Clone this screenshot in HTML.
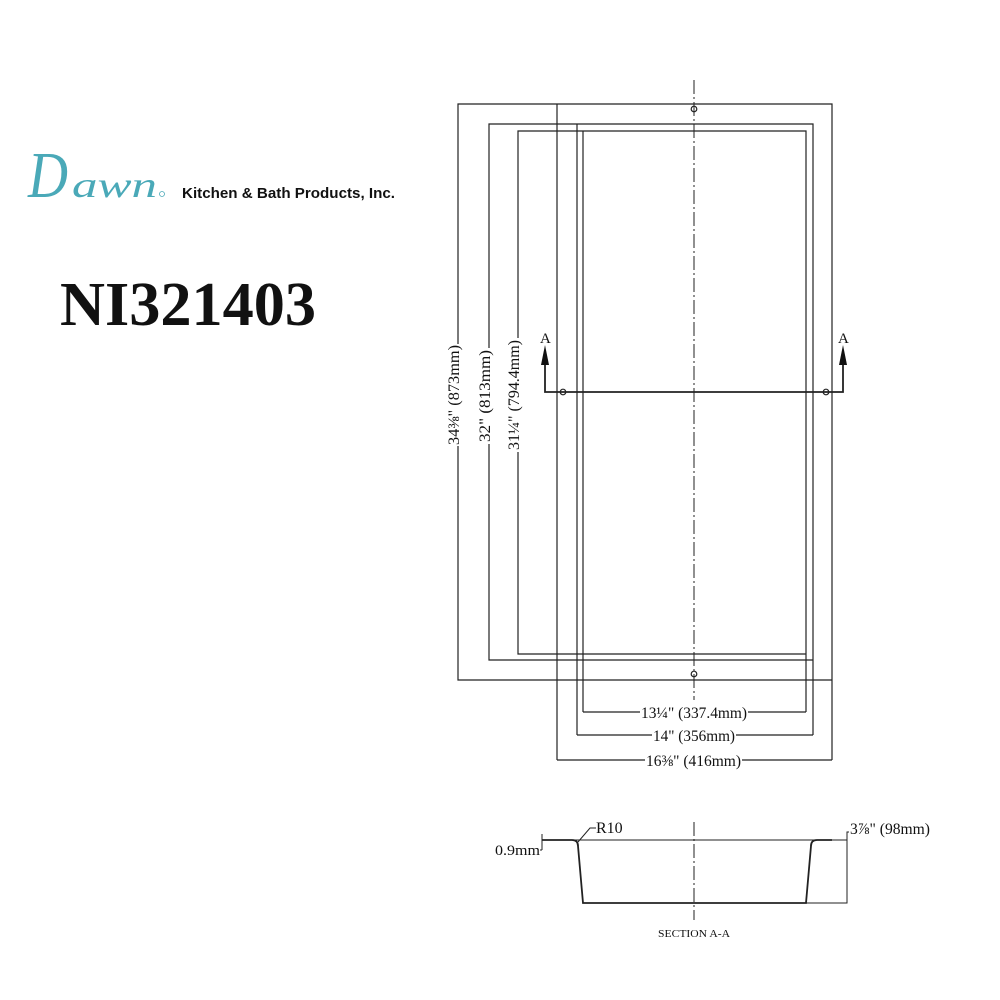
<!DOCTYPE html>
<html><head><meta charset="utf-8"><style>
html,body{margin:0;padding:0;background:#fff;}
svg{display:block;}
text{font-family:"Liberation Serif",serif;fill:#111;}
</style></head><body>
<svg width="1000" height="1000" viewBox="0 0 1000 1000" xmlns="http://www.w3.org/2000/svg">
<!-- logo -->
<text x="28" y="197" font-size="66" font-style="italic" style="fill:#4aa9b8" textLength="40" lengthAdjust="spacingAndGlyphs">D</text>
<text x="72" y="197" font-size="36" font-style="italic" style="fill:#4aa9b8" textLength="85" lengthAdjust="spacingAndGlyphs">awn</text>
<circle cx="162" cy="194" r="2.5" fill="none" stroke="#4aa9b8" stroke-width="0.8"/>
<text x="182" y="198" font-size="14.5" font-weight="bold" style="font-family:'Liberation Sans',sans-serif" textLength="213" lengthAdjust="spacingAndGlyphs">Kitchen &amp; Bath Products, Inc.</text>
<text x="60" y="325" font-size="62" font-weight="bold" textLength="256" lengthAdjust="spacingAndGlyphs">NI321403</text>

<g stroke="#222" stroke-width="1.2" fill="none">
<!-- outer 873 -->
<path d="M458,344 V104 H832 V760 M458,446 V680 H832"/>
<path d="M557,104 V760"/>
<!-- 813 -->
<path d="M489,348 V124 H813 V735 M489,444 V660 H813"/>
<path d="M577,124 V735"/>
<!-- 794 -->
<path d="M518,338 V131 H806 V712 M518,452 V654 H806"/>
<path d="M583,131 V712"/>
<!-- horizontal dims -->
<path d="M583,712 H640 M748,712 H806"/>
<path d="M577,735 H652 M736,735 H813"/>
<path d="M557,760 H645 M742,760 H832"/>
<!-- centerline -->
<path d="M694,80 V700" stroke-dasharray="14,3,2,3" stroke-width="1"/>
<circle cx="694" cy="109" r="2.8"/>
<circle cx="694" cy="674" r="2.8"/>
<circle cx="563" cy="392" r="2.8"/>
<circle cx="826" cy="392" r="2.8"/>
<!-- section line -->
<path d="M545,365 V392 H843 V365" stroke-width="1.8"/>
<!-- section view -->
<path d="M542,840 H572 Q578,840 578,846 L583,903 H806 L811,846 Q811,840 817,840 H832" stroke-width="1.8"/>
<path d="M572,840 H832" stroke-width="1"/>
<path d="M806,903 H847 V840 H832 M847,840 V832 H849" stroke-width="1"/>
<path d="M542,850 V834 M540,850 H542" stroke-width="1"/>
<path d="M578,842 L590,828 H596" stroke-width="1"/>
<path d="M694,822 V920" stroke-dasharray="14,3,2,3" stroke-width="1"/>
</g>
<polygon points="545,345 541,365 549,365" fill="#111"/>
<polygon points="843,345 839,365 847,365" fill="#111"/>
<text x="540" y="343" font-size="15">A</text>
<text x="838" y="343" font-size="15">A</text>

<text transform="translate(459,395) rotate(-90)" text-anchor="middle" font-size="16" textLength="100" lengthAdjust="spacingAndGlyphs">34⅜" (873mm)</text>
<text transform="translate(490,396) rotate(-90)" text-anchor="middle" font-size="16" textLength="92" lengthAdjust="spacingAndGlyphs">32" (813mm)</text>
<text transform="translate(519,395) rotate(-90)" text-anchor="middle" font-size="16" textLength="110" lengthAdjust="spacingAndGlyphs">31¼" (794.4mm)</text>

<text x="641" y="718" font-size="16" textLength="106" lengthAdjust="spacingAndGlyphs">13¼" (337.4mm)</text>
<text x="653" y="741" font-size="16" textLength="82" lengthAdjust="spacingAndGlyphs">14" (356mm)</text>
<text x="646" y="766" font-size="16" textLength="95" lengthAdjust="spacingAndGlyphs">16⅜" (416mm)</text>

<text x="596" y="833" font-size="16">R10</text>
<text x="495" y="855" font-size="15" textLength="45" lengthAdjust="spacingAndGlyphs">0.9mm</text>
<text x="850" y="834" font-size="16" textLength="80" lengthAdjust="spacingAndGlyphs">3⅞" (98mm)</text>
<text x="658" y="937" font-size="11" textLength="72" lengthAdjust="spacingAndGlyphs">SECTION A-A</text>
</svg>
</body></html>
